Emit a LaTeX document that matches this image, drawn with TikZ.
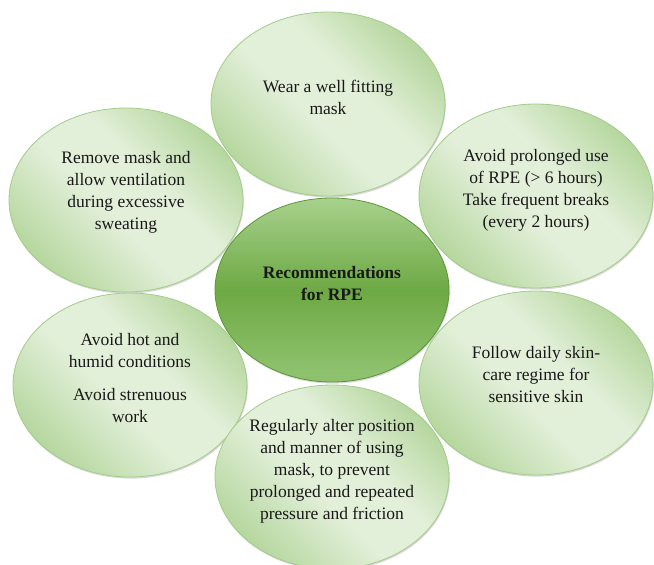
\documentclass[tikz,border=0pt]{standalone}
\usepackage{fontspec}
\setmainfont{Liberation Serif}
\usepackage{tikz}
\usetikzlibrary{shapes.geometric,shadows}

\definecolor{petalrim}{HTML}{A3CB89}
\definecolor{petaldark}{HTML}{B6D79F}
\definecolor{petallight}{HTML}{E2EFD9}
\definecolor{hubtop}{HTML}{A8D18D}
\definecolor{hubmid}{HTML}{6DA944}
\definecolor{hubbot}{HTML}{8EC16D}
\definecolor{hubrim}{HTML}{5A9636}

\pgfdeclarehorizontalshading{petalshade}{100bp}{color(0bp)=(petaldark); color(25bp)=(petaldark);
  color(45bp)=(petallight); color(58bp)=(petallight); color(75bp)=(petaldark); color(100bp)=(petaldark)}
\pgfdeclareverticalshading{hubshade}{100bp}{color(0bp)=(hubbot); color(28bp)=(hubbot);
  color(50bp)=(hubmid); color(75bp)=(hubtop); color(100bp)=(hubtop)}

\tikzset{
  petal/.style={ellipse, draw=petalrim, line width=0.8pt, shading=petalshade, shading angle=45,
    minimum width=234pt, minimum height=184pt, inner sep=0pt,
    drop shadow={opacity=0.3, shadow xshift=0.8pt, shadow yshift=-1.6pt}},
  hub/.style={petal, draw=hubrim, shading=hubshade, shading angle=0},
  note/.style={align=center, text=black!90, font=\fontsize{17.5}{22}\selectfont},
}

\begin{document}
\begin{tikzpicture}[x=1pt, y=-1pt]
  \useasboundingbox (0,0) rectangle (654,565);
  % the seven ellipses
  \node[petal] (maskfit)  at (328,104) {};
  \node[petal] (ventil)   at (126,200) {};
  \node[petal] (prolong)  at (536,196) {};
  \node[hub]   (rpe)      at (332,290) {};
  \node[petal] (hothumid) at (130,385) {};
  \node[petal] (skincare) at (536,383) {};
  \node[petal] (alterpos) at (332,477) {};

  % texts, a little above the middle
  \node[note] (maskfitT) at ([yshift=7pt]maskfit.center) {Wear a well fitting\\mask};
  \node[note] (ventilT) at ([yshift=8pt]ventil.center)
    {Remove mask and\\allow ventilation\\during excessive\\sweating};
  \node[note] (prolongT) at ([yshift=6pt]prolong.center)
    {Avoid prolonged use\\of RPE (> 6 hours)\\Take frequent breaks\\(every 2 hours)};
  \node[note, font=\fontsize{17.5}{22}\selectfont\bfseries] (rpeT) at ([yshift=6pt]rpe.center)
    {Recommendations\\for RPE};
  \node[note] (hothumidT) at ([yshift=7pt]hothumid.center)
    {Avoid hot and\\humid conditions\\[11pt]Avoid strenuous\\work};
  \node[note] (skincareT) at ([yshift=8pt]skincare.center)
    {Follow daily skin-\\care regime for\\sensitive skin};
  \node[note] (alterposT) at ([yshift=6pt]alterpos.center)
    {Regularly alter position\\and manner of using\\mask, to prevent\\prolonged and repeated\\pressure and friction};
\end{tikzpicture}
\end{document}
